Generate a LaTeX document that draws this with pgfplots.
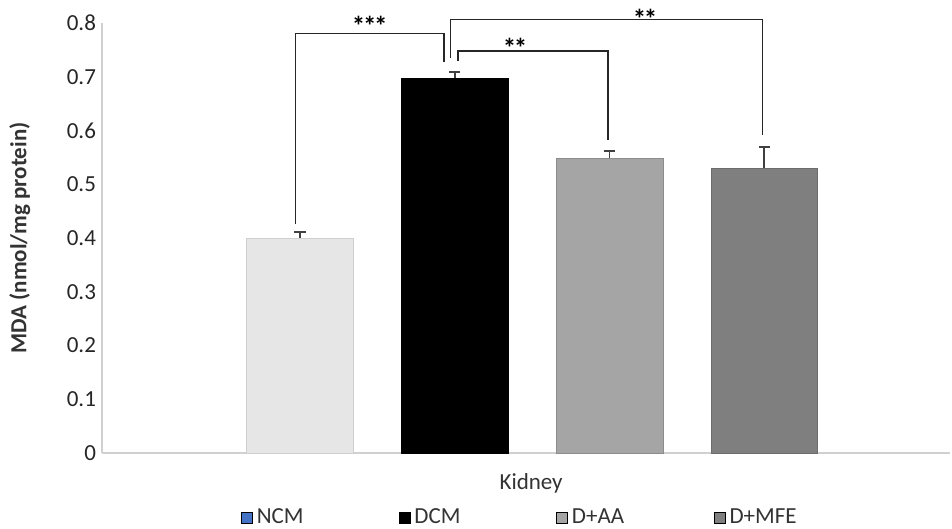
\documentclass[border=0pt]{standalone}
\usepackage{pgfplots}
\pgfplotsset{compat=1.18}
\usepackage{fontspec}
\setmainfont{Carlito}
\definecolor{ncm}{HTML}{E6E6E6}
\definecolor{ncmleg}{HTML}{4472C4}
\definecolor{daa}{HTML}{A5A5A5}
\definecolor{dmfe}{HTML}{7F7F7F}
\definecolor{axisgray}{HTML}{D0D0D0}
\definecolor{errc}{HTML}{404040}
\begin{document}
\begin{tikzpicture}
\begin{axis}[
  scale only axis,
  width=424pt, height=215pt,
  xmin=-0.28, xmax=5.2,
  ymin=0, ymax=0.8,
  clip=false,
  axis x line=bottom, axis y line=left,
  axis line style={-, draw=axisgray, line width=0.8pt},
  xtick=\empty,
  ytick={0,0.1,0.2,0.3,0.4,0.5,0.6,0.7,0.8},
  major tick length=0pt,
  yticklabel style={/pgf/number format/fixed, /pgf/number format/precision=1, /pgf/number format/assume math mode=true,
    font=\fontsize{11.5}{13}\selectfont, color=black!85, xshift=0.5pt},
  ylabel={\bfseries MDA (nmol/mg protein)},
  ylabel style={at={(axis description cs:-0.097,0.5)}, anchor=center, font=\fontsize{11.5}{13}\selectfont, color=black!80},
  xlabel={Kidney},
  xlabel style={at={(axis description cs:0.506,-0.07)}, anchor=center, font=\fontsize{11.5}{13}\selectfont, color=black!80},
  legend style={at={(axis description cs:0.494,-0.151)}, anchor=center, draw=none, fill=none,
    legend columns=4, font=\fontsize{11.5}{13}\selectfont, text=black!80,
    /tikz/every even column/.append style={column sep=0pt}},
  legend image code/.code={\fill[#1] (0pt,-2.7pt) rectangle (5.4pt,2.7pt);},
]
\addplot[ybar, bar shift=0pt, bar width=0.69, fill=ncm, draw=ncm!90!black, line width=0.3pt, forget plot,
  error bars/.cd, y dir=plus, y explicit, error bar style={errc, line width=0.9pt},
  error mark options={rotate=90, errc, mark size=2.8pt, line width=0.9pt}]
  coordinates {(1,0.40) +- (0,0.011)};
\addplot[ybar, bar shift=0pt, bar width=0.69, fill=black, draw=black, line width=0.3pt, forget plot,
  error bars/.cd, y dir=plus, y explicit, error bar style={errc, line width=0.9pt},
  error mark options={rotate=90, errc, mark size=2.8pt, line width=0.9pt}]
  coordinates {(2,0.698) +- (0,0.011)};
\addplot[ybar, bar shift=0pt, bar width=0.69, fill=daa, draw=daa!85!black, line width=0.3pt, forget plot,
  error bars/.cd, y dir=plus, y explicit, error bar style={errc, line width=0.9pt},
  error mark options={rotate=90, errc, mark size=2.8pt, line width=0.9pt}]
  coordinates {(3,0.548) +- (0,0.014)};
\addplot[ybar, bar shift=0pt, bar width=0.69, fill=dmfe, draw=dmfe!85!black, line width=0.3pt, forget plot,
  error bars/.cd, y dir=plus, y explicit, error bar style={errc, line width=0.9pt},
  error mark options={rotate=90, errc, mark size=2.8pt, line width=0.9pt}]
  coordinates {(4,0.530) +- (0,0.040)};
% significance brackets
\addplot[black!85, line width=0.65pt, forget plot] coordinates {(0.97,0.426) (0.97,0.780) (1.93,0.780) (1.93,0.727)};
\addplot[black!85, line width=0.65pt, forget plot] coordinates {(1.97,0.735) (1.97,0.806) (3.99,0.806) (3.99,0.592)};
\addplot[black!85, line width=0.65pt, forget plot] coordinates {(2.02,0.729) (2.02,0.748) (2.99,0.748) (2.99,0.582)};
\node[anchor=base, inner sep=0pt, font=\fontsize{13.5}{14}\selectfont\bfseries] at (axis cs:1.45,0.776) {*\kern-1.2pt*\kern-1.2pt*};
\node[anchor=base, inner sep=0pt, font=\fontsize{13.5}{14}\selectfont\bfseries] at (axis cs:3.23,0.790) {*\kern-1.2pt*};
\node[anchor=base, inner sep=0pt, font=\fontsize{13.5}{14}\selectfont\bfseries] at (axis cs:2.39,0.736) {*\kern-1.2pt*};
\addlegendimage{fill=ncmleg}
\addlegendentry{\makebox[69pt][l]{NCM}}
\addlegendimage{fill=black}
\addlegendentry{\makebox[69pt][l]{DCM}}
\addlegendimage{fill=daa}
\addlegendentry{\makebox[69pt][l]{D+AA}}
\addlegendimage{fill=dmfe}
\addlegendentry{D+MFE}
\end{axis}
\pgfresetboundingbox
\path[use as bounding box] ([shift={(-51pt,-38pt)}]current axis.south west) rectangle ([shift={(1pt,11.5pt)}]current axis.north east);
\end{tikzpicture}
\end{document}
